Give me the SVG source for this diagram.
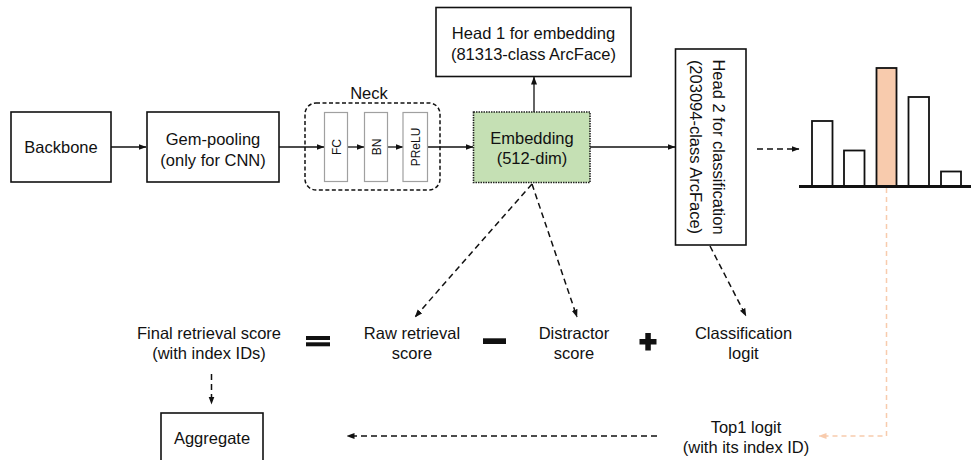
<svg xmlns="http://www.w3.org/2000/svg" width="971" height="460" viewBox="0 0 971 460">
<style>
  text { font-family: "Liberation Sans", Arial, sans-serif; font-size: 16.5px; fill: #111; text-anchor: middle; }
  .box { fill: #fff; stroke: #111; stroke-width: 1.6; }
  .small { font-size: 12px; }
  .inner { fill: #fff; stroke: #a0a0a0; stroke-width: 1.2; }
  .ln { fill: none; stroke: #111; stroke-width: 1.3; }
  .dash { fill: none; stroke: #111; stroke-width: 1.5; stroke-dasharray: 6 4; }
  .odash { fill: none; stroke: #f8cbad; stroke-width: 1.5; stroke-dasharray: 5 4; }
  .bar { fill: #fff; stroke: #111; stroke-width: 1.8; }
</style>
<defs>
  <marker id="ah" markerUnits="userSpaceOnUse" markerWidth="8" markerHeight="7" refX="7.5" refY="3.5" orient="auto">
    <path d="M0,0.5 L8,3.5 L0,6.5 z" fill="#111"/>
  </marker>
  <marker id="aho" markerUnits="userSpaceOnUse" markerWidth="8" markerHeight="7" refX="7.5" refY="3.5" orient="auto">
    <path d="M0,0.5 L8,3.5 L0,6.5 z" fill="#f8cbad"/>
  </marker>
</defs>

<g id="connectors">
  <line class="ln" x1="111" y1="147" x2="146" y2="147" marker-end="url(#ah)"/>
  <line class="ln" x1="279" y1="147" x2="324" y2="147" marker-end="url(#ah)"/>
  <line class="ln" x1="348" y1="147" x2="364" y2="147" marker-end="url(#ah)"/>
  <line class="ln" x1="387" y1="147" x2="403" y2="147" marker-end="url(#ah)"/>
  <line class="ln" x1="428" y1="147" x2="473" y2="147" marker-end="url(#ah)"/>
  <line class="ln" x1="534" y1="112" x2="534" y2="77" marker-end="url(#ah)"/>
  <line class="ln" x1="590" y1="147" x2="675" y2="147" marker-end="url(#ah)"/>
  <line class="dash" x1="757" y1="149" x2="799" y2="149" marker-end="url(#ah)"/>
  <line class="dash" x1="532" y1="184" x2="415" y2="317" marker-end="url(#ah)"/>
  <line class="dash" x1="532" y1="184" x2="577" y2="317" marker-end="url(#ah)"/>
  <line class="dash" x1="710" y1="246" x2="746" y2="316" marker-end="url(#ah)"/>
  <line class="dash" x1="211.5" y1="374" x2="211.5" y2="404" marker-end="url(#ah)"/>
  <line class="dash" x1="657" y1="436" x2="347" y2="436" marker-end="url(#ah)"/>
  <polyline class="odash" points="886.5,188 886.5,436 819,436" marker-end="url(#aho)"/>
</g>

<g id="backbone">
  <rect class="box" x="11" y="112" width="100" height="70"/>
  <text x="61" y="153">Backbone</text>
</g>

<g id="gem-pooling">
  <rect class="box" x="147" y="112" width="132" height="70"/>
  <text x="213" y="145">Gem-pooling</text>
  <text x="213" y="166">(only for CNN)</text>
</g>

<g id="neck">
  <rect x="305" y="103" width="135" height="87" rx="11" fill="none" stroke="#111" stroke-width="1.5" stroke-dasharray="4 2.5"/>
  <text x="369" y="99">Neck</text>
  <rect class="inner" x="324.5" y="112.5" width="23" height="69"/>
  <text class="small" transform="translate(340.5,147) rotate(-90)">FC</text>
  <rect class="inner" x="364.5" y="112.5" width="23" height="69"/>
  <text class="small" transform="translate(380.5,147) rotate(-90)">BN</text>
  <rect class="inner" x="403" y="112.5" width="24.5" height="69"/>
  <text class="small" transform="translate(419.5,147) rotate(-90)">PReLU</text>
</g>

<g id="embedding">
  <rect x="473.5" y="112" width="116.5" height="70.5" fill="#c5e0b4" stroke="#222" stroke-width="1.6" stroke-dasharray="1.5 1"/>
  <text x="532" y="144">Embedding</text>
  <text x="532" y="164">(512-dim)</text>
</g>

<g id="head1">
  <rect class="box" x="436" y="7.5" width="195" height="69"/>
  <text x="533.5" y="39">Head 1 for embedding</text>
  <text x="533.5" y="60">(81313-class ArcFace)</text>
</g>

<g id="head2">
  <rect class="box" x="675.5" y="49" width="70.5" height="196"/>
  <text transform="translate(712.5,147) rotate(90)">Head 2 for classification</text>
  <text transform="translate(690,147) rotate(90)">(203094-class ArcFace)</text>
</g>

<g id="histogram">
  <rect class="bar" x="812" y="121" width="20.5" height="65"/>
  <rect class="bar" x="844" y="150.5" width="20.5" height="35.5"/>
  <rect x="876.5" y="68" width="20" height="118" fill="#f8cbad" stroke="#111" stroke-width="1.8"/>
  <rect class="bar" x="908.5" y="97" width="20.5" height="89"/>
  <rect class="bar" x="941" y="171.5" width="20" height="14.5"/>
  <line x1="799" y1="186.5" x2="971" y2="186.5" stroke="#111" stroke-width="3"/>
</g>

<g id="final-score">
  <text x="209" y="338.5">Final retrieval score</text>
  <text x="209" y="358.5">(with index IDs)</text>
</g>

<g id="equals">
  <rect x="306" y="336" width="24" height="4" fill="#111"/>
  <rect x="306" y="342.3" width="24" height="4" fill="#111"/>
</g>

<g id="raw-score">
  <text x="412" y="338.5">Raw retrieval</text>
  <text x="412" y="358.5">score</text>
</g>

<g id="minus">
  <rect x="483" y="338.3" width="23" height="5.7" fill="#111"/>
</g>

<g id="distractor-score">
  <text x="574" y="338.5">Distractor</text>
  <text x="574" y="358.5">score</text>
</g>

<g id="plus">
  <rect x="639.5" y="339" width="17" height="5.5" fill="#111"/>
  <rect x="645.3" y="333" width="5.5" height="17.5" fill="#111"/>
</g>

<g id="classification-logit">
  <text x="743.5" y="338.5">Classification</text>
  <text x="743.5" y="358.5">logit</text>
</g>

<g id="aggregate">
  <rect class="box" x="161" y="413" width="102" height="60"/>
  <text x="212" y="444">Aggregate</text>
</g>

<g id="top1-logit">
  <text x="746" y="433">Top1 logit</text>
  <text x="746" y="452.5">(with its index ID)</text>
</g>
</svg>
